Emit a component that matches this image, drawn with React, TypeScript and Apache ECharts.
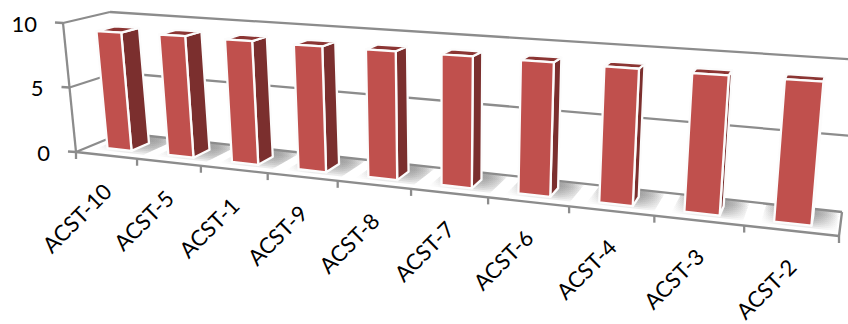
import React, { useEffect, useRef } from "react";
import * as echarts from "echarts";

const categories = ["ACST-10", "ACST-5", "ACST-1", "ACST-9", "ACST-8", "ACST-7", "ACST-6", "ACST-4", "ACST-3", "ACST-2"];
const values = [9.2, 9.25, 9.2, 9.15, 9.15, 9.15, 9.1, 9.05, 9.0, 9.0];
const yTicks = [0, 5, 10];

const FONT_Y = "22px Lato, 'Open Sans', sans-serif";
const FONT_X = "22px Lato, 'Open Sans', sans-serif";
const GRID = "#8c8c8c";
const FRONT = "#c0504d";
const SIDE = "#7b2f2e";
const TOP = "#8b3533";

// Corners of the perspective box: [front|back][left|right][floor|top]
const FL0 = [76, 152], FR0 = [839, 236], FL1 = [63, 23], FR1 = [854, 71];
const BL0 = [122, 133], BR0 = [842, 212], BL1 = [110, 12], BR1 = [855, 59.5];
const WR = 0.783;

function project(u: number, h: number, d: number): number[] {
  const w = 1 - u + u * WR;
  const out = [0, 0];
  for (let k = 0; k < 2; k++) {
    const leftFront = FL0[k] + (FL1[k] - FL0[k]) * h;
    const leftBack = BL0[k] + (BL1[k] - BL0[k]) * h;
    const rightFront = FR0[k] + (FR1[k] - FR0[k]) * h;
    const rightBack = BR0[k] + (BR1[k] - BR0[k]) * h;
    const l = leftFront + (leftBack - leftFront) * d;
    const r = rightFront + (rightBack - rightFront) * d;
    out[k] = ((1 - u) * l + u * WR * r) / w;
  }
  return out;
}

function lineEl(a: number[], b: number[]) {
  return {
    type: "line",
    shape: { x1: a[0], y1: a[1], x2: b[0], y2: b[1] },
    style: { stroke: GRID, lineWidth: 2.3, fill: null },
  };
}

function norm(params: any, pt: number[]) {
  const cs = params.coordSys;
  return [(pt[0] - cs.x) / cs.width, 1 - (pt[1] - cs.y) / cs.height];
}

function renderWalls(params: any, api: any) {
  const v = api.value(0);
  const h = norm(params, api.coord([0, v]))[1];
  const frontPt = project(0, h, 0);
  const backPt = project(0, h, 1);
  const children: any[] = [
    lineEl(backPt, project(1, h, 1)),
    lineEl(frontPt, backPt),
    lineEl([frontPt[0] - 8, frontPt[1] - 0.5], frontPt),
    {
      type: "text",
      x: frontPt[0] - 26,
      y: frontPt[1],
      style: { text: String(v), font: FONT_Y, fill: "#000", align: "right", verticalAlign: "middle" },
    },
  ];
  if (v === 0) {
    children.push(lineEl(project(0, 0, 0), project(1, 0, 0)));
    children.push(lineEl(project(1, 0, 0), project(1, 0, 1)));
    children.push(lineEl(project(0, 0, 0), project(0, 1, 0)));
  }
  return { type: "group", children };
}

function renderShadow(params: any, api: any) {
  const i = api.value(0);
  const cs = params.coordSys;
  const band = api.size([1, 0])[0] / cs.width;
  const u = norm(params, api.coord([i, 0]))[0];
  const u0 = u - band * 0.34;
  const u1 = u + band * 0.47;
  const layers = [0.2, 0.28, 0.36, 0.44, 0.52, 0.6, 0.68, 0.76];
  const d1 = 0.98;
  const children = layers.map((da) => ({
    type: "polygon",
    shape: { points: [project(u0, 0, da), project(u1, 0, da), project(u1, 0, d1), project(u0, 0, d1)] },
    style: {
      opacity: 0.16,
      fill: new echarts.graphic.LinearGradient(0, 0, 1, 0, [
        { offset: 0, color: "rgba(135,135,135,0)" },
        { offset: 0.32, color: "rgba(135,135,135,1)" },
        { offset: 0.68, color: "rgba(135,135,135,1)" },
        { offset: 1, color: "rgba(135,135,135,0)" },
      ]),
    },
  }));
  return { type: "group", children };
}

function renderBar(params: any, api: any) {
  const i = api.value(0);
  const cs = params.coordSys;
  const band = api.size([1, 0])[0] / cs.width;
  const pt = norm(params, api.coord([i, api.value(1)]));
  const u = pt[0], h = pt[1];
  const a = u - band * 0.2, b = u + band * 0.2;
  const d0 = 0.3, d1 = 0.7;
  const edge = { stroke: "#fcfcfc", lineWidth: 2.3, lineJoin: "round" };
  const poly = (pts: number[][], fill: string) => ({
    type: "polygon",
    shape: { points: pts },
    style: { fill, ...edge },
  });
  return {
    type: "group",
    children: [
      poly([project(b, 0, d0), project(b, 0, d1), project(b, h, d1), project(b, h, d0)], SIDE),
      poly([project(a, h, d0), project(b, h, d0), project(b, h, d1), project(a, h, d1)], TOP),
      poly([project(a, 0, d0), project(b, 0, d0), project(b, h, d0), project(a, h, d0)], FRONT),
    ],
  };
}

function renderXAxis(params: any, api: any) {
  const i = api.value(0);
  const cs = params.coordSys;
  const band = api.size([1, 0])[0] / cs.width;
  const u = norm(params, api.coord([i, 0]))[0];
  const tick = (t: number) => {
    const p = project(t, 0, 0);
    return lineEl(p, [p[0], p[1] + 7]);
  };
  const anchor = project(u, 0, 0);
  const children: any[] = [
    tick(u - band / 2),
    {
      type: "text",
      x: anchor[0] + 1,
      y: anchor[1] + 32,
      rotation: Math.PI / 4,
      style: { text: categories[i], font: FONT_X, fill: "#000", align: "right", verticalAlign: "middle" },
    },
  ];
  if (i === categories.length - 1) children.push(tick(u + band / 2));
  return { type: "group", children };
}

export default function App() {
  const ref = useRef<HTMLDivElement>(null);
  useEffect(() => {
    const chart = echarts.init(ref.current!, undefined, { renderer: "svg" });
    const catData = values.map((v, i) => [i, v]);
    chart.setOption({
      animation: false,
      backgroundColor: "#ffffff",
      grid: { left: 60, top: 20, width: 780, height: 220 },
      xAxis: { type: "category", data: categories, show: false },
      yAxis: { type: "value", min: 0, max: 10, interval: 5, show: false },
      series: [
        { type: "custom", name: "shadow", data: catData, renderItem: renderShadow, encode: { x: 0, y: 1 }, silent: true, z: 1 },
        { type: "custom", name: "walls", data: yTicks.map((t) => [t]), renderItem: renderWalls, encode: { y: 0 }, silent: true, z: 2 },
        { type: "custom", name: "xaxis", data: catData, renderItem: renderXAxis, encode: { x: 0, y: 1 }, silent: true, z: 2 },
        { type: "custom", name: "values", data: catData, renderItem: renderBar, encode: { x: 0, y: 1 }, silent: true, z: 3 },
      ],
    });
    return () => chart.dispose();
  }, []);
  return <div ref={ref} style={{ position: "absolute", left: 0, top: 0, width: 848, height: 324 }} />;
}
